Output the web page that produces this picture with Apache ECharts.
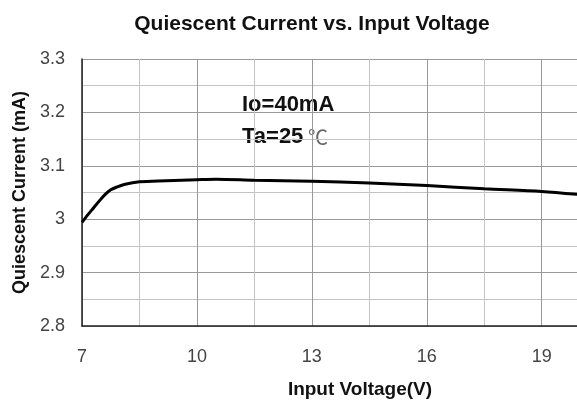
<!DOCTYPE html>
<html><head><meta charset="utf-8">
<script src="https://cdn.jsdelivr.net/npm/echarts@6/dist/echarts.min.js"></script>
<style>html,body{margin:0;padding:0;background:#fff}#c{width:577px;height:401px}</style>
</head><body><div id="c"></div>
<script>
var voltage = [7, 7.15, 7.3, 7.45, 7.6, 7.75, 7.9, 8.1, 8.5, 9.2, 10, 10.5, 11.5, 13, 14.5, 16, 17.5, 19, 20];
var current = [2.994, 3.008, 3.021, 3.034, 3.046, 3.055, 3.060, 3.065, 3.070, 3.072, 3.074, 3.075, 3.073, 3.071, 3.068, 3.063, 3.057, 3.052, 3.046];
var xTicks = [7, 10, 13, 16, 19];
var yTicks = [2.8, 2.9, 3, 3.1, 3.2, 3.3];
var titleText = 'Quiescent Current vs. Input Voltage';
var note1 = 'Io=40mA', note2 = 'Ta=25', note3 = '℃';

var chart = echarts.init(document.getElementById('c'));
var pts = voltage.map(function(v,i){return [v, current[i]];});
function near(list, v){ for (var i=0;i<list.length;i++){ if (Math.abs(list[i]-v)<1e-6) return true; } return false; }
chart.setOption({
  animation:false,
  title:{text:titleText,left:307,top:9,textAlign:'center',textStyle:{fontFamily:'Liberation Sans',fontSize:21,fontWeight:'bold',color:'#111'}},
  grid:{left:82,top:59,width:498,height:267,containLabel:false,outerBoundsMode:'none'},
  xAxis:{type:'value',min:7,max:20,interval:1.5,
    name:'Input Voltage(V)',nameLocation:'middle',nameGap:54,
    nameTextStyle:{fontFamily:'Liberation Sans',fontSize:19,fontWeight:'bold',color:'#111',padding:[0,0,0,58]},
    axisLine:{show:true,lineStyle:{color:'#222',width:1.5}},
    axisTick:{show:false},
    axisLabel:{margin:22,fontFamily:'Liberation Sans',fontSize:18,color:'#444',
      formatter:function(v){return near(xTicks,v)?String(v):'';}},
    splitLine:{show:true,lineStyle:{color:['#999','#c4c4c4'],width:1}}
  },
  yAxis:{type:'value',min:2.8,max:3.3,interval:0.05,
    name:'Quiescent Current (mA)',nameLocation:'middle',nameGap:47,nameRotate:90,
    nameTextStyle:{fontFamily:'Liberation Sans',fontSize:18,fontWeight:'bold',color:'#111'},
    axisLine:{show:true,lineStyle:{color:'#222',width:1.5}},
    axisTick:{show:false},
    axisLabel:{margin:17,fontFamily:'Liberation Sans',fontSize:18,color:'#444',
      formatter:function(v){var r=Math.round(v*100)/100; return near(yTicks,r)?String(Number(r.toFixed(1))):'';}},
    splitLine:{show:true,lineStyle:{color:['#999','#c4c4c4'],width:1}}
  },
  graphic:[
    {type:'text',left:242,top:94,style:{text:note1,font:'bold 22px "Liberation Sans"',fill:'#111'}},
    {type:'text',left:242,top:126,style:{text:note2,font:'bold 22px "Liberation Sans"',fill:'#111'}},
    {type:'text',left:308,top:127,style:{text:note3,font:'20px "Noto Sans CJK SC"',fill:'#666'}}
  ],
  series:[{type:'line',data:pts,smooth:0.3,showSymbol:false,clip:true,
    lineStyle:{color:'#000',width:3}}]
});
</script></body></html>
